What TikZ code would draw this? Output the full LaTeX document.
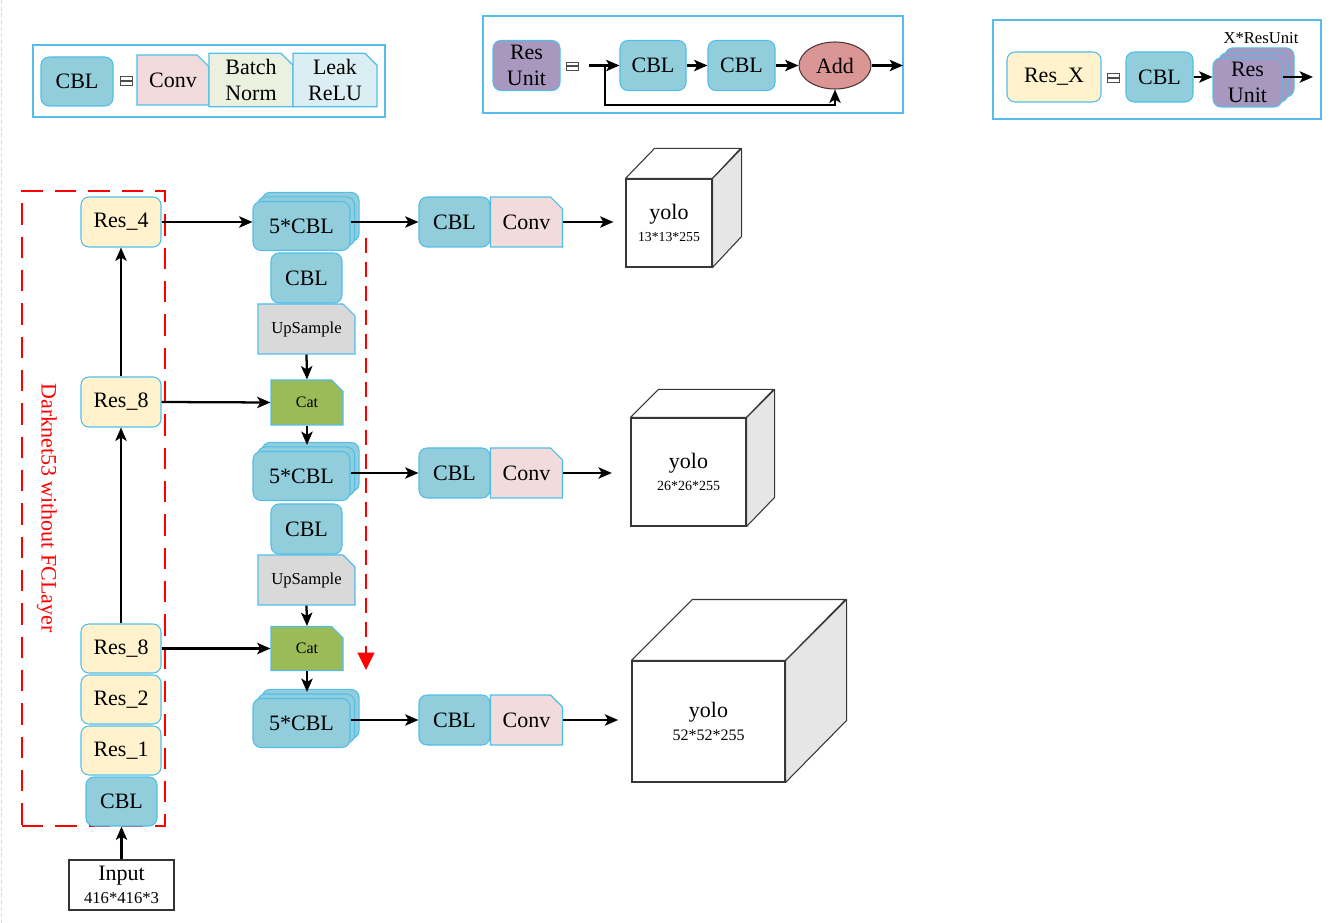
\documentclass[tikz,border=0pt]{standalone}
\usepackage{fontspec}
\setmainfont{Liberation Serif}
\usetikzlibrary{shapes.misc,shapes.geometric,shadows,arrows.meta,calc}
\definecolor{cblc}{RGB}{146,205,220}
\definecolor{edge}{RGB}{80,190,232}
\definecolor{resc}{RGB}{255,242,204}
\definecolor{convc}{RGB}{242,220,219}
\definecolor{bnc}{RGB}{235,241,222}
\definecolor{reluc}{RGB}{218,238,243}
\definecolor{unitc}{RGB}{168,152,192}
\definecolor{addc}{RGB}{218,150,148}
\definecolor{addln}{RGB}{80,55,55}
\definecolor{upc}{RGB}{217,217,217}
\definecolor{catc}{RGB}{155,187,89}
\definecolor{legc}{RGB}{85,188,236}
\definecolor{cubeside}{RGB}{230,230,230}
\definecolor{cubeln}{RGB}{55,55,55}
\newcommand\fmain{\fontsize{16.5}{19.5}\selectfont}
\tikzset{
 sz/.style 2 args={minimum width={(#1)*0.75pt},minimum height={(#2)*0.75pt}},
 bx/.style={draw=edge, line width=0.8pt, inner sep=0pt, align=center, font=\fmain},
 rbox/.style={bx, rounded corners=6pt},
 cblbox/.style={rbox, fill=cblc},
 resbox/.style={rbox, fill=resc},
 unitbox/.style={rbox, fill=unitc},
 tabbox/.style={bx, chamfered rectangle, chamfered rectangle corners=north east, chamfered rectangle xsep=4.5pt, chamfered rectangle ysep=4.5pt},
 frame/.style={draw=legc, line width=0.85pt, inner sep=0pt},
 arr/.style={line width=1.7pt, -{Stealth[length=10pt,width=8.5pt,inset=2.5pt]}},
 cblstack/.style={double copy shadow={shadow xshift=3.4pt, shadow yshift=3.4pt, fill=cblc, draw=edge, line width=0.8pt}},
 unitstack/.style={double copy shadow={shadow xshift=4.5pt, shadow yshift=3.8pt, fill=unitc, draw=edge, line width=0.8pt}},
 cubef/.style={draw=cubeln, line width=0.8pt, fill=white, inner sep=0pt, align=center, font=\fontsize{16.5}{17}\selectfont},
 cubel/.style={draw=cubeln, line width=0.8pt, line join=round},
 eqv/.style={draw=black!70, line width=0.6pt},
 reddash/.style={draw=red, line width=1.5pt},
}
\begin{document}
\begin{tikzpicture}[x=0.75pt,y=-0.75pt]
\useasboundingbox (0,0) rectangle (1343,923);
\draw[black!15, dash pattern=on 3pt off 2pt] (1,0) -- (1,923);

% ---------- legend 1 ----------
\node[frame, sz={352}{72}] (leg1) at (209,81) {};
\node[cblbox, sz={72}{49}] (lcbl) at (77,81.5) {CBL};
\draw[eqv] (120,76) rectangle (132,80) (120,81) rectangle (132,85);
\node[tabbox, fill=convc, sz={72}{50}] (lconv) at (173,80) {Conv};
\node[tabbox, fill=bnc, sz={84}{50}] (lbn) at (251,80) {Batch\\Norm};
\node[tabbox, fill=reluc, sz={84}{50}] (lrelu) at (335,80) {Leak\\ReLU};

% ---------- legend 2 ----------
\node[frame, sz={420}{97}] (leg2) at (693,64.5) {};
\node[unitbox, sz={67}{50}] (ru0) at (526.5,65.5) {Res\\Unit};
\draw[eqv] (566,62) rectangle (578,65.5) (566,66.5) rectangle (578,70);
\node[cblbox, sz={66}{50}] (c2a) at (653,65.5) {CBL};
\node[cblbox, sz={67}{50}] (c2b) at (741.5,65.5) {CBL};
\node[ellipse, draw=addln, line width=0.8pt, fill=addc, inner sep=0pt, sz={72}{47}, font=\fmain] (add) at (835,65.5) {Add};
\coordinate (in2) at (589,65.5);
\coordinate (br2) at (605,65.5);
\coordinate (lp2) at (605,105);
\coordinate (out2) at (903,65.5);
\draw[arr] (in2) -- (c2a.west);
\draw[arr] (c2a) -- (c2b);
\draw[arr] (c2b) -- (add);
\draw[arr] (add) -- (out2);
\draw[arr] (br2) -- (lp2) -| (add.south);

% ---------- legend 3 ----------
\node[frame, sz={328}{99}] (leg3) at (1157,69.5) {};
\node[resbox, sz={94}{50}] (rx) at (1054,77) {Res\_X};
\draw[eqv] (1107,73) rectangle (1119,77) (1107,78) rectangle (1119,82);
\node[cblbox, sz={67}{50}] (c3) at (1159.5,77) {CBL};
\node[unitbox, unitstack, sz={69}{49}] (ru3) at (1247.5,82.5) {Res\\Unit};
\node[font=\fontsize{12.5}{14}\selectfont, inner sep=0pt] (xlab) at (1261,38) {X*ResUnit};
\coordinate (out3) at (1313,77);
\draw[arr] (c3.east) -- (c3.east -| ru3.west);
\draw[arr] (ru3.east |- out3) -- (out3);

% ---------- Darknet box ----------
\node[reddash, dash pattern=on 16pt off 9pt, inner sep=0pt, sz={143}{635}] (dark) at (93.5,508.5) {};
\node[red, rotate=-90, font=\fontsize{16.5}{18}\selectfont] (dtxt) at (47,508) {Darknet53 without FCLayer};

% ---------- left column ----------
\node[resbox, sz={80}{50}] (r4) at (121,222) {Res\_4};
\node[resbox, sz={80}{50}] (r8a) at (121,402) {Res\_8};
\node[resbox, sz={80}{49}] (r8b) at (121,648.5) {Res\_8};
\node[resbox, sz={80}{49}] (r2) at (121,699.5) {Res\_2};
\node[resbox, sz={80}{49}] (r1) at (121,750.5) {Res\_1};
\node[cblbox, sz={71}{49}] (cbl0) at (121.5,801.5) {CBL};
\node[cubef, draw=black!80, sz={105}{50}] (inp) at (121.5,885)
  {Input\\{\fontsize{12.5}{13}\selectfont 416*416*3}};
\draw[arr] (inp.north) -- (cbl0.south);
\draw[arr] (r8b.north) -- (r8a.south);
\draw[arr] (r8a.north) -- (r4.south);

% ---------- centre column ----------
\node[cblbox, cblstack, sz={97}{49}] (s1) at (301.5,226) {5*CBL};
\node[cblbox, sz={71}{50}] (cblA) at (306.5,278) {CBL};
\node[tabbox, fill=upc, sz={97}{50}, font=\fontsize{12.5}{14}\selectfont] (upA) at (306.5,329) {UpSample};
\node[tabbox, fill=catc, sz={72}{45}, font=\fontsize{12}{14}\selectfont] (catA) at (307,402.5) {Cat};
\node[cblbox, cblstack, sz={97}{49}] (s2) at (301.5,476) {5*CBL};
\node[cblbox, sz={71}{50}] (cblB) at (306.5,529) {CBL};
\node[tabbox, fill=upc, sz={97}{50}, font=\fontsize{12.5}{14}\selectfont] (upB) at (306.5,580) {UpSample};
\node[tabbox, fill=catc, sz={72}{44}, font=\fontsize{12}{14}\selectfont] (catB) at (307,648.5) {Cat};
\node[cblbox, cblstack, sz={97}{49}] (s3) at (301.5,723) {5*CBL};

\draw[arr] (upA.south) -- (catA.north);
\draw[arr] (catA.south) -- ($(s2.north -| catA.south)+(0,-6)$);
\draw[arr] (upB.south) -- (catB.north);
\draw[arr] (catB.south) -- ($(s3.north -| catB.south)+(0,-6)$);

\draw[arr] (r4.east) -- (r4.east -| s1.west);
\draw[arr] (r8a.east) -- (catA.west);
\draw[arr] (r8b.east) -- (catB.west);

% red dashed arrow
\coordinate (rd1) at (366,238);
\coordinate (rd2) at (366,670);
\draw[reddash, dash pattern=on 11pt off 7pt, -{Triangle[length=13pt,width=12.5pt]}] (rd1) -- (rd2);

% ---------- heads ----------
\node[cblbox, sz={71}{50}] (h1c) at (454.5,222) {CBL};
\node[tabbox, fill=convc, sz={72}{50}] (h1v) at (526.5,222) {Conv};
\node[cblbox, sz={71}{50}] (h2c) at (454.5,473) {CBL};
\node[tabbox, fill=convc, sz={72}{50}] (h2v) at (526.5,473) {Conv};
\node[cblbox, sz={71}{50}] (h3c) at (454.5,720) {CBL};
\node[tabbox, fill=convc, sz={72}{50}] (h3v) at (526.5,720) {Conv};

\draw[arr] (s1.east |- h1c.west) -- (h1c.west);
\draw[arr] (s2.east |- h2c.west) -- (h2c.west);
\draw[arr] (s3.east |- h3c.west) -- (h3c.west);

% ---------- cubes ----------
\node[cubef, sz={86}{88}] (y1) at (669,223)
  {yolo\\[-1pt]{\fontsize{10.3}{11}\selectfont 13*13*255}};
\draw[cubel, fill=white] (y1.north west) -- ++(29,-30) -- ++(86,0) -- (y1.north east) -- cycle;
\draw[cubel, fill=cubeside] (y1.north east) -- ++(29,-30) -- ++(0,88) -- (y1.south east) -- cycle;

\node[cubef, sz={115}{108}] (y2) at (688.5,472)
  {yolo\\[-1pt]{\fontsize{10.5}{11}\selectfont 26*26*255}};
\draw[cubel, fill=white] (y2.north west) -- ++(28,-28) -- ++(115,0) -- (y2.north east) -- cycle;
\draw[cubel, fill=cubeside] (y2.north east) -- ++(28,-28) -- ++(0,108) -- (y2.south east) -- cycle;

\node[cubef, sz={153}{121}] (y3) at (708.5,721.5)
  {yolo\\{\fontsize{12}{12}\selectfont 52*52*255}};
\draw[cubel, fill=white] (y3.north west) -- ++(61,-61) -- ++(153,0) -- (y3.north east) -- cycle;
\draw[cubel, fill=cubeside] (y3.north east) -- ++(61,-61) -- ++(0,121) -- (y3.south east) -- cycle;

\draw[arr, shorten >=9pt] (h1v.east) -- (h1v.east -| y1.west);
\draw[arr, shorten >=14pt] (h2v.east) -- (h2v.east -| y2.west);
\draw[arr, shorten >=10pt] (h3v.east) -- (h3v.east -| y3.west);
\end{tikzpicture}
\end{document}
